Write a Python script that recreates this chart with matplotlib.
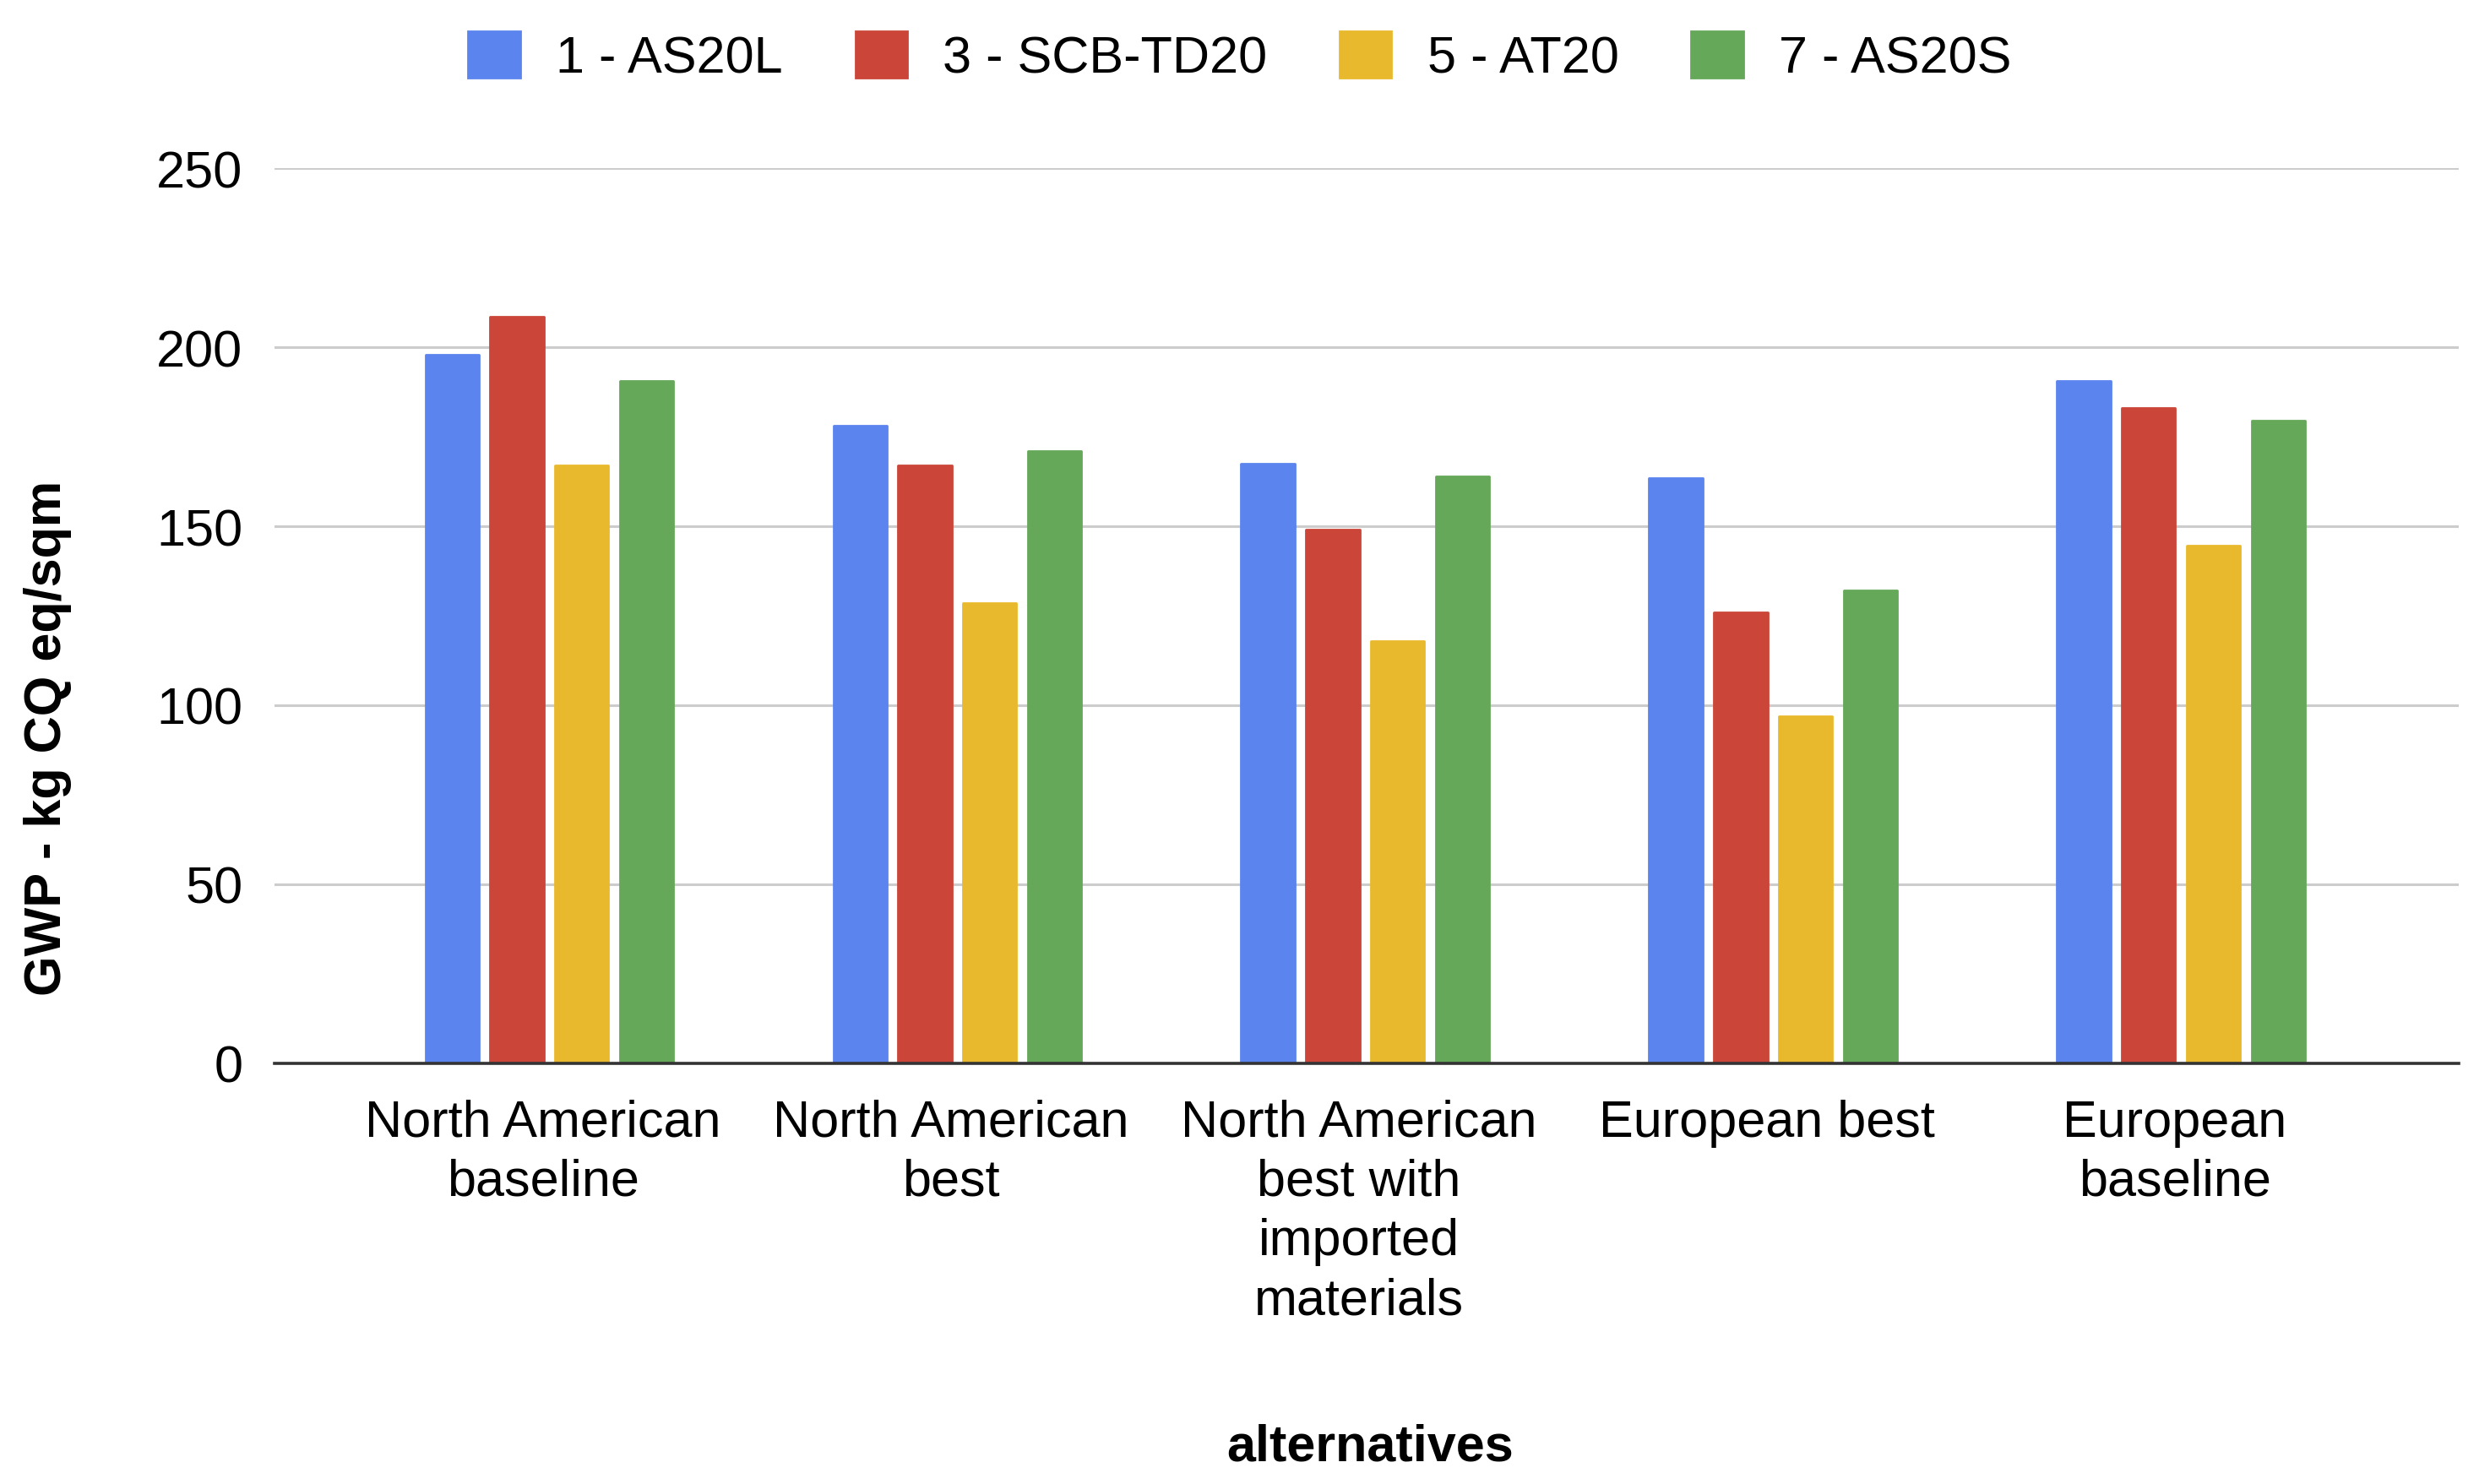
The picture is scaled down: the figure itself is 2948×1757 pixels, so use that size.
import matplotlib
matplotlib.use("Agg")
import matplotlib.pyplot as plt
import numpy as np

categories = ["North American\nbaseline", "North American\nbest",
              "North American\nbest with\nimported\nmaterials", "European best",
              "European\nbaseline"]
series_names = ["1 - AS20L", "3 - SCB-TD20", "5 - AT20", "7 - AS20S"]
as20l = [198, 178, 167.5, 163.5, 190.5]
scb_td20 = [208.5, 167, 149, 126, 183]
at20 = [167, 128.5, 118, 97, 144.5]
as20s = [190.5, 171, 164, 132, 179.5]
yticks = [0, 50, 100, 150, 200, 250]

colors = ["#5B84EE", "#CB4539", "#E9B92D", "#66A85A"]
series = [as20l, scb_td20, at20, as20s]

plt.rcParams['font.family'] = ['Liberation Sans', 'DejaVu Sans']

fig = plt.figure(figsize=(29.48, 17.58), dpi=100)
ax = fig.add_axes([0.1102, 0.2833, 0.8773, 0.6029])

x = np.arange(len(categories))
w = 0.131
stride = 0.159
shift = 0.016
for i, (vals, c, name) in enumerate(zip(series, colors, series_names)):
    off = (i - 1.5) * stride + shift
    ax.bar(x + off, vals, width=w, color=c, label=name, zorder=3,
           edgecolor=c, linewidth=2, joinstyle='round')

ax.set_xlim(-0.658, 4.697)
ax.set_ylim(0, 250)
ax.set_yticks(yticks)
ax.set_yticklabels([str(t) for t in yticks], fontsize=44)
ax.set_xticks(x)
ax.set_xticklabels(categories, fontsize=44, linespacing=1.3)
ax.tick_params(axis='both', length=0)
ax.tick_params(axis='y', pad=27)
ax.tick_params(axis='x', pad=30)
ax.grid(axis='y', color='#CCCCCC', linewidth=2.2, zorder=0)
for s in ['top', 'right', 'left']:
    ax.spines[s].set_visible(False)
ax.spines['bottom'].set_color('#333333')
ax.spines['bottom'].set_linewidth(2.6)
ax.spines['bottom'].set_zorder(4)

fig.text(0.5504, 0.025, "alternatives", fontsize=44, fontweight='bold',
         ha='center', va='center')
fig.text(0.0193, 0.503, "GWP - kg CQ eq/sqm", fontsize=44, fontweight='bold',
         ha='center', va='center', rotation=90)

leg = fig.legend(loc='center', bbox_to_anchor=(0.498, 0.961), ncol=4,
                 frameon=False, fontsize=44, handlelength=1.0, handleheight=1.0,
                 handletextpad=0.7, columnspacing=1.4)

fig.savefig("out.png", dpi=100, facecolor='white')
